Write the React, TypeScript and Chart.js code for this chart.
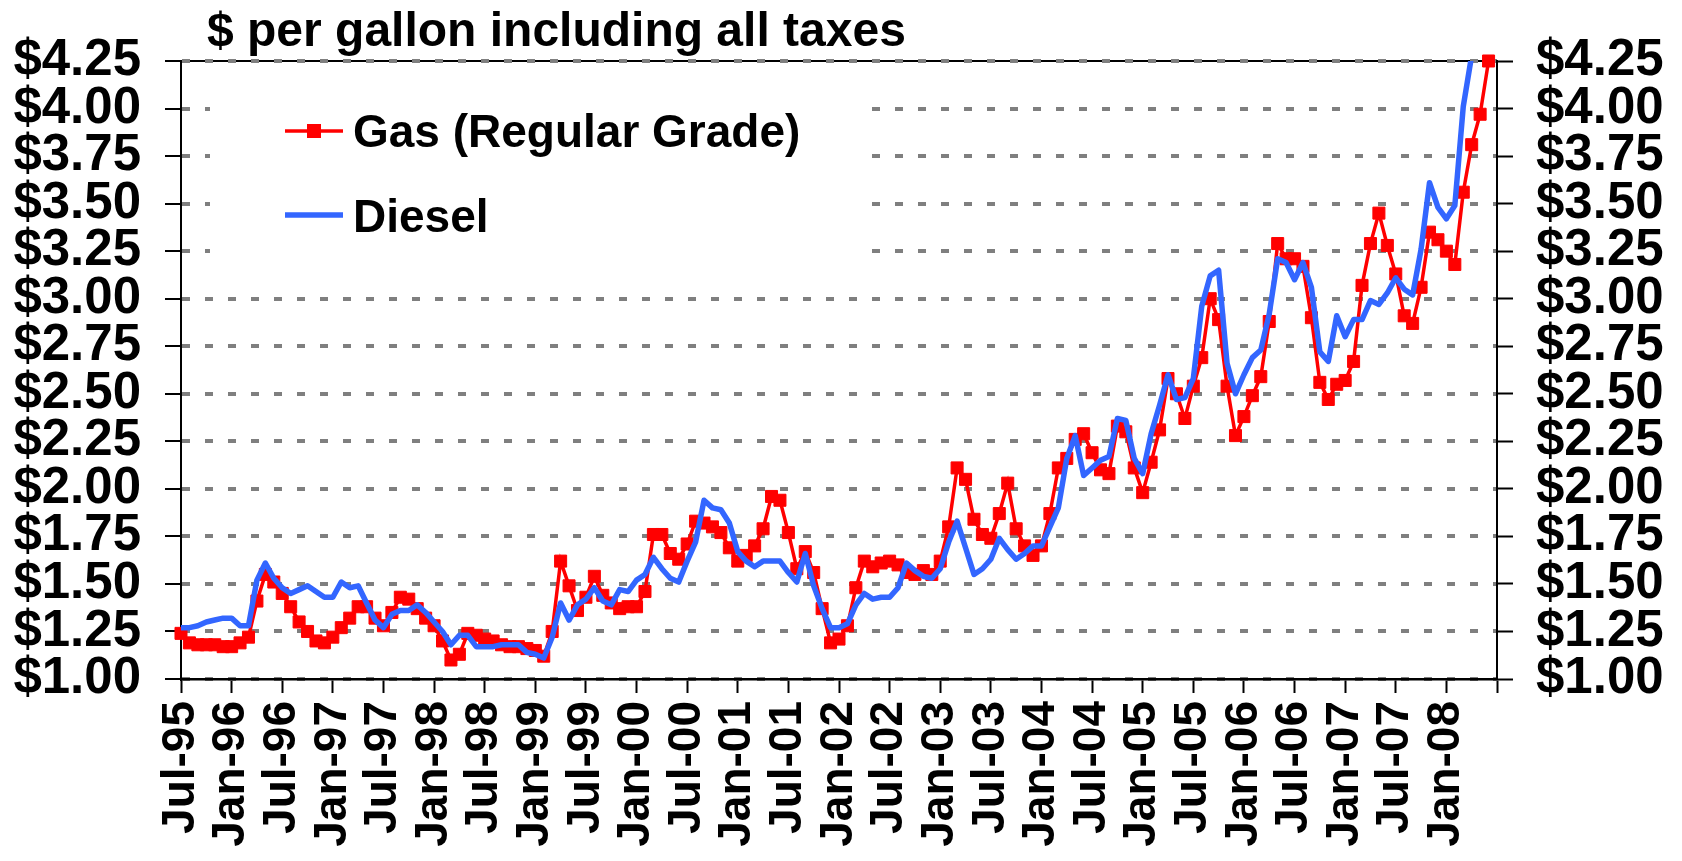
import React, { useEffect, useRef } from 'react';
import { Chart, registerables } from 'chart.js';

Chart.register(...registerables);

// Tick labels on the x axis (one every 6 months, starting Jul-95)
const xTickLabels = [
  'Jul-95', 'Jan-96', 'Jul-96', 'Jan-97', 'Jul-97', 'Jan-98', 'Jul-98', 'Jan-99',
  'Jul-99', 'Jan-00', 'Jul-00', 'Jan-01', 'Jul-01', 'Jan-02', 'Jul-02', 'Jan-03',
  'Jul-03', 'Jan-04', 'Jul-04', 'Jan-05', 'Jul-05', 'Jan-06', 'Jul-06', 'Jan-07',
  'Jul-07', 'Jan-08',
];
const monthsPerTick = 6;
const totalMonths = 156; // Jul-95 .. Jul-08 axis span

const titleText = '$ per gallon including all taxes';
const seriesNames = ['Gas (Regular Grade)', 'Diesel'];

// Monthly prices, Jul-95 .. Jun-08 (156 months)
const gasPrices = [
  1.24, 1.19, 1.18, 1.18, 1.18, 1.17, 1.17, 1.19, 1.22, 1.41, 1.55, 1.51,
  1.45, 1.38, 1.30, 1.25, 1.20, 1.19, 1.22, 1.27, 1.32, 1.38, 1.38, 1.32,
  1.28, 1.35, 1.43, 1.42, 1.37, 1.32, 1.28, 1.20, 1.10, 1.13, 1.24, 1.23,
  1.21, 1.20, 1.18, 1.17, 1.17, 1.16, 1.15, 1.12, 1.25, 1.62, 1.49, 1.36,
  1.43, 1.54, 1.44, 1.40, 1.37, 1.38, 1.38, 1.46, 1.76, 1.76, 1.66, 1.63,
  1.71, 1.83, 1.82, 1.80, 1.77, 1.69, 1.62, 1.65, 1.70, 1.79, 1.96, 1.94,
  1.77, 1.58, 1.67, 1.56, 1.37, 1.19, 1.21, 1.28, 1.48, 1.62, 1.59, 1.61,
  1.62, 1.60, 1.56, 1.55, 1.57, 1.55, 1.62, 1.80, 2.11, 2.05, 1.84, 1.76,
  1.74, 1.87, 2.03, 1.79, 1.70, 1.65, 1.70, 1.87, 2.11, 2.16, 2.26, 2.29,
  2.19, 2.10, 2.08, 2.33, 2.30, 2.11, 1.98, 2.14, 2.31, 2.58, 2.50, 2.37,
  2.54, 2.69, 3.00, 2.89, 2.54, 2.28, 2.38, 2.49, 2.59, 2.88, 3.29, 3.21,
  3.21, 3.17, 2.90, 2.56, 2.47, 2.55, 2.57, 2.67, 3.07, 3.29, 3.45, 3.28,
  3.13, 2.91, 2.87, 3.06, 3.35, 3.31, 3.25, 3.18, 3.56, 3.81, 3.97, 4.25,
];

const dieselPrices = [
  1.27, 1.27, 1.28, 1.30, 1.31, 1.32, 1.32, 1.28, 1.28, 1.52, 1.61, 1.53,
  1.48, 1.45, 1.47, 1.49, 1.46, 1.43, 1.43, 1.51, 1.48, 1.49, 1.40, 1.31,
  1.27, 1.34, 1.36, 1.36, 1.39, 1.35, 1.30, 1.25, 1.18, 1.23, 1.23, 1.17,
  1.17, 1.17, 1.18, 1.18, 1.18, 1.14, 1.13, 1.11, 1.22, 1.40, 1.31, 1.39,
  1.42, 1.48, 1.41, 1.39, 1.47, 1.46, 1.52, 1.55, 1.64, 1.58, 1.53, 1.51,
  1.62, 1.72, 1.94, 1.90, 1.89, 1.82, 1.67, 1.62, 1.59, 1.62, 1.62, 1.62,
  1.56, 1.51, 1.66, 1.49, 1.37, 1.27, 1.27, 1.29, 1.39, 1.45, 1.42, 1.43,
  1.43, 1.48, 1.61, 1.57, 1.54, 1.53, 1.58, 1.72, 1.83, 1.69, 1.55, 1.58,
  1.63, 1.74, 1.68, 1.63, 1.66, 1.70, 1.70, 1.80, 1.90, 2.16, 2.28, 2.07,
  2.11, 2.15, 2.17, 2.37, 2.36, 2.16, 2.08, 2.29, 2.44, 2.60, 2.47, 2.48,
  2.58, 2.96, 3.12, 3.15, 2.66, 2.50, 2.60, 2.69, 2.73, 2.92, 3.21, 3.19,
  3.10, 3.19, 3.06, 2.72, 2.67, 2.91, 2.80, 2.89, 2.89, 2.99, 2.97, 3.03,
  3.11, 3.05, 3.02, 3.26, 3.61, 3.48, 3.42, 3.49, 4.01, 4.28, 4.50, 4.70,
];

const yMin = 1.0;
const yMax = 4.25;
const yStep = 0.25;

const FONT = '"Liberation Sans", Arial, Helvetica, sans-serif';
const GAS_COLOR = '#FF0000';
const DIESEL_COLOR = '#3366FF';

const overlayPlugin = {
  id: 'overlay',
  beforeDraw(chart: any) {
    const { ctx, chartArea: a } = chart;
    ctx.save();
    ctx.strokeStyle = '#000';
    ctx.lineWidth = 2;
    ctx.beginPath();
    ctx.moveTo(a.left, a.top);
    ctx.lineTo(a.right, a.top);
    ctx.stroke();
    ctx.restore();
  },
  beforeDatasetsDraw(chart: any) {
    const { ctx, chartArea: a } = chart;
    ctx.save();
    // legend box (opaque white, hides the grid behind it)
    ctx.fillStyle = '#fff';
    ctx.fillRect(a.left + 29, a.top + 8, 661, 204);

    const ds = chart.data.datasets;
    const rows = [
      { y: a.top + 70, base: a.top + 86, d: ds[1] },
      { y: a.top + 154, base: a.top + 171, d: ds[0] },
    ];
    rows.forEach((r) => {
      ctx.strokeStyle = r.d.borderColor;
      ctx.lineWidth = r.d.borderWidth;
      ctx.beginPath();
      ctx.moveTo(a.left + 104, r.y);
      ctx.lineTo(a.left + 162, r.y);
      ctx.stroke();
      if (r.d.pointRadius > 0) {
        ctx.fillStyle = r.d.pointBackgroundColor;
        ctx.fillRect(a.left + 133 - 7, r.y - 7, 14, 14);
      }
      ctx.fillStyle = '#000';
      ctx.font = `bold 46px ${FONT}`;
      ctx.textAlign = 'left';
      ctx.textBaseline = 'alphabetic';
      ctx.fillText(r.d.label, a.left + 172, r.base);
    });
    ctx.restore();
  },
  afterDraw(chart: any) {
    const { ctx, chartArea: a } = chart;
    ctx.save();
    ctx.fillStyle = '#000';
    ctx.font = `bold 48px ${FONT}`;
    ctx.textAlign = 'left';
    ctx.textBaseline = 'alphabetic';
    ctx.fillText(titleText, a.left + 26, a.top - 15);
    ctx.restore();
  },
};

export default function App() {
  const canvasRef = useRef<HTMLCanvasElement | null>(null);

  useEffect(() => {
    const canvas = canvasRef.current;
    if (!canvas) return;
    Chart.defaults.font.family = FONT;

    const yTickCallback = (v: any) => '$' + Number(v).toFixed(2);
    const yTickFont = { size: 51, weight: 'bold' as const, family: FONT };

    const chart = new Chart(canvas, {
      type: 'line',
      data: {
        datasets: [
          {
            label: seriesNames[1],
            data: dieselPrices.map((v, i) => ({ x: i, y: v })),
            borderColor: DIESEL_COLOR,
            backgroundColor: DIESEL_COLOR,
            borderWidth: 5.5,
            pointRadius: 0,
            tension: 0,
            order: 0,
            borderJoinStyle: 'round',
            clip: { left: 5, top: 0, right: 5, bottom: 5 },
          } as any,
          {
            label: seriesNames[0],
            data: gasPrices.map((v, i) => ({ x: i, y: v })),
            borderColor: GAS_COLOR,
            backgroundColor: GAS_COLOR,
            pointBackgroundColor: GAS_COLOR,
            pointBorderColor: GAS_COLOR,
            pointBorderWidth: 1,
            borderWidth: 3.5,
            pointStyle: 'rect',
            pointRadius: 8.5,
            tension: 0,
            order: 1,
            clip: false,
          } as any,
        ],
      },
      options: {
        animation: false,
        responsive: false,
        devicePixelRatio: 1,
        layout: { padding: { top: 61, left: 0, right: 0, bottom: 0 } },
        plugins: {
          legend: { display: false },
          tooltip: { enabled: false },
          title: { display: false },
        },
        scales: {
          x: {
            type: 'linear',
            min: 0,
            max: totalMonths,
            afterFit: (s: any) => {
              s.height = 182;
            },
            ticks: {
              stepSize: monthsPerTick,
              autoSkip: false,
              maxRotation: 90,
              minRotation: 90,
              padding: 8,
              color: '#000',
              font: { size: 46, weight: 'bold', family: FONT },
              callback: (v: any) => xTickLabels[Math.round(Number(v) / monthsPerTick)] ?? '',
            },
            grid: {
              drawOnChartArea: false,
              drawTicks: true,
              tickLength: 14,
              tickColor: '#000',
              tickWidth: 2,
            },
            border: { display: true, color: '#000', width: 2.5 },
          },
          y: {
            position: 'left',
            min: yMin,
            max: yMax,
            afterFit: (s: any) => {
              s.width = 181;
            },
            ticks: {
              stepSize: yStep,
              autoSkip: false,
              padding: 24,
              color: '#000',
              font: yTickFont,
              callback: yTickCallback,
            },
            grid: {
              color: '#7f7f7f',
              lineWidth: 4,
              tickLength: 16,
              tickColor: '#000',
              tickWidth: 2,
              tickBorderDash: [],
            },
            border: { display: true, color: '#000', width: 2, dash: [8, 15] },
          },
          y2: {
            position: 'right',
            min: yMin,
            max: yMax,
            afterFit: (s: any) => {
              s.width = 185;
            },
            ticks: {
              stepSize: yStep,
              autoSkip: false,
              padding: 23,
              color: '#000',
              font: yTickFont,
              callback: yTickCallback,
            },
            grid: {
              drawOnChartArea: false,
              tickLength: 16,
              tickColor: '#000',
              tickWidth: 2,
            },
            border: { display: true, color: '#000', width: 2 },
          },
        },
      } as any,
      plugins: [overlayPlugin],
    });

    return () => {
      chart.destroy();
    };
  }, []);

  return (
    <div style={{ position: 'absolute', left: 0, top: 0, width: 1682, height: 861, background: '#fff' }}>
      <canvas ref={canvasRef} width={1682} height={861} style={{ display: 'block' }} />
    </div>
  );
}
